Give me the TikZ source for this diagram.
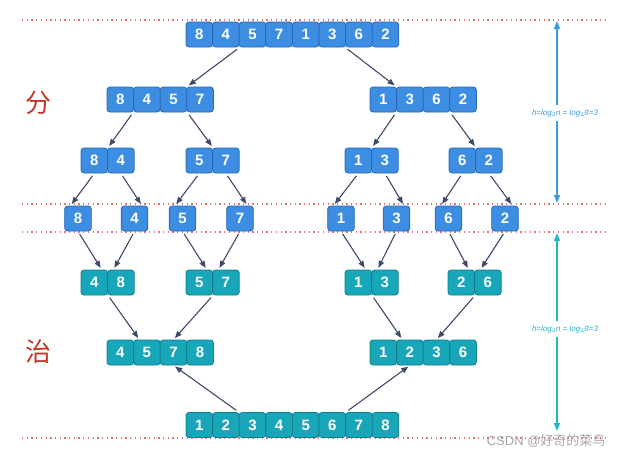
\documentclass[tikz,border=0pt]{standalone}
\usepackage{fontspec}
\setsansfont{Liberation Sans}
\newfontfamily\cjk{Noto Sans CJK SC}
\usetikzlibrary{arrows.meta,positioning,calc}
\definecolor{cellblue}{HTML}{3D8EE3}
\definecolor{blueedge}{HTML}{2767B5}
\definecolor{cellteal}{HTML}{17A7B8}
\definecolor{tealedge}{HTML}{0E7F8E}
\definecolor{arrowgray}{HTML}{3E4A68}
\definecolor{sepred}{HTML}{DE7570}
\definecolor{hanred}{HTML}{C0392B}
\definecolor{hblue}{HTML}{3A9BE3}
\definecolor{hteal}{HTML}{22B7C8}
\newcommand{\cellrow}[5]{\foreach \v [count=\i] in {#5} {\node[#2] (#1-\i) at ({#3+(\i-1)*26.6},#4) {\v};}}

\begin{document}
\begin{tikzpicture}[x=1pt, y=-1pt,
  bc/.style={draw=blueedge, fill=cellblue, rounded corners=3pt, minimum width=26.6pt, minimum height=25pt, inner sep=0pt, text=white, font=\sffamily\bfseries\fontsize{15}{15}\selectfont, line width=0.8pt},
  tc/.style={bc, draw=tealedge, fill=cellteal},
  arr/.style={-{Triangle[length=7pt,width=5.5pt]}, draw=arrowgray, line width=1.1pt, shorten <=3pt, shorten >=2pt},
  sep/.style={sepred, line width=1.2pt, dash pattern=on 1.3pt off 3.4pt},
  harr/.style={-{Triangle[length=8pt,width=6pt]}, line width=1.4pt},
  hlab/.style={font=\sffamily\itshape\fontsize{8}{8}\selectfont, inner sep=4pt},
  han/.style={text=hanred, font=\cjk\fontsize{26}{26}\selectfont}]
\useasboundingbox[fill=white] (0,0) rectangle (623,459);
% dotted separators
\foreach \y in {20,204,232,438} \draw[sep] (22,\y) -- (607,\y);
% divide
\cellrow{top}{bc}{199.3}{34.5}{8,4,5,7,1,3,6,2}
\cellrow{l}{bc}{120.3}{99.5}{8,4,5,7}
\cellrow{r}{bc}{383.3}{99.5}{1,3,6,2}
\cellrow{ll}{bc}{94.3}{160.5}{8,4}
\cellrow{lr}{bc}{199.3}{160.5}{5,7}
\cellrow{rl}{bc}{358.3}{160.5}{1,3}
\cellrow{rr}{bc}{462.3}{160.5}{6,2}
\foreach \x/\v [count=\i] in {78/8,134.5/4,182.5/5,240/7,341/1,396.5/3,448.5/6,505/2} \node[bc] (s\i) at (\x,218.5) {\v};
% conquer
\cellrow{tl}{tc}{94.3}{282.5}{4,8}
\cellrow{tr}{tc}{199.3}{282.5}{5,7}
\cellrow{trl}{tc}{358.3}{282.5}{1,3}
\cellrow{trr}{tc}{461.3}{282.5}{2,6}
\cellrow{m}{tc}{120.3}{352.5}{4,5,7,8}
\cellrow{mm}{tc}{383.3}{352.5}{1,2,3,6}
\cellrow{b}{tc}{199.3}{425}{1,2,3,4,5,6,7,8}
% arrows down
\draw[arr] (top-2.south east) -- (l-3.north east);
\draw[arr] (top-7.south west) -- (r-2.north west);
\draw[arr] (l-2.south west) -- (ll-1.north east);
\draw[arr] (l-3.south east) -- (lr-1.north east);
\draw[arr] (r-2.south west) -- (rl-1.north east);
\draw[arr] (r-3.south east) -- (rr-1.north east);
\foreach \p/\a/\c in {ll/1/2,lr/3/4,rl/5/6,rr/7/8} {
  \draw[arr] (\p-1.south) -- (s\a.120);
  \draw[arr] (\p-2.south) -- (s\c.60);
}
\foreach \p/\a/\c in {tl/1/2,tr/3/4,trl/5/6,trr/7/8} {
  \draw[arr] (s\a.south) -- (\p-1.60);
  \draw[arr] (s\c.south) -- (\p-2.120);
}
\draw[arr] (tl-1.south east) -- (m-2.120);
\draw[arr] (tr-1.south east) -- (m-3.north);
\draw[arr] (trl-1.south east) -- (mm-2.120);
\draw[arr] (trr-1.south east) -- (mm-3.north);
\draw[arr] (b-3.north west) -- (m-3.south);
\draw[arr] (b-6.north east) -- (mm-2.south);
% height marks
\coordinate (h1t) at (557,21);
\coordinate (h1b) at (557,203);
\coordinate (h2t) at (557,233);
\coordinate (h2b) at (557,431);
\node[hlab, text=hblue] (h1) at (565,113) {h=log$_2$n = log$_2$8=3};
\node[hlab, text=hteal] (h2) at (565,329) {h=log$_2$n = log$_2$8=3};
\draw[harr, hblue] (h1.north -| h1t) -- (h1t);
\draw[harr, hblue] (h1.south -| h1b) -- (h1b);
\draw[harr, hteal] (h2.north -| h2t) -- (h2t);
\draw[harr, hteal] (h2.south -| h2b) -- (h2b);
% side labels
\node[han] (fen) at (38,103) {分};
\node[han] (zhi) at (38,352) {治};
\node[text=gray!70, font=\sffamily\fontsize{13}{13}\selectfont, anchor=east] (mark) at (609,441) {CSDN @{\cjk 好奇的菜鸟}};
\end{tikzpicture}
\end{document}
